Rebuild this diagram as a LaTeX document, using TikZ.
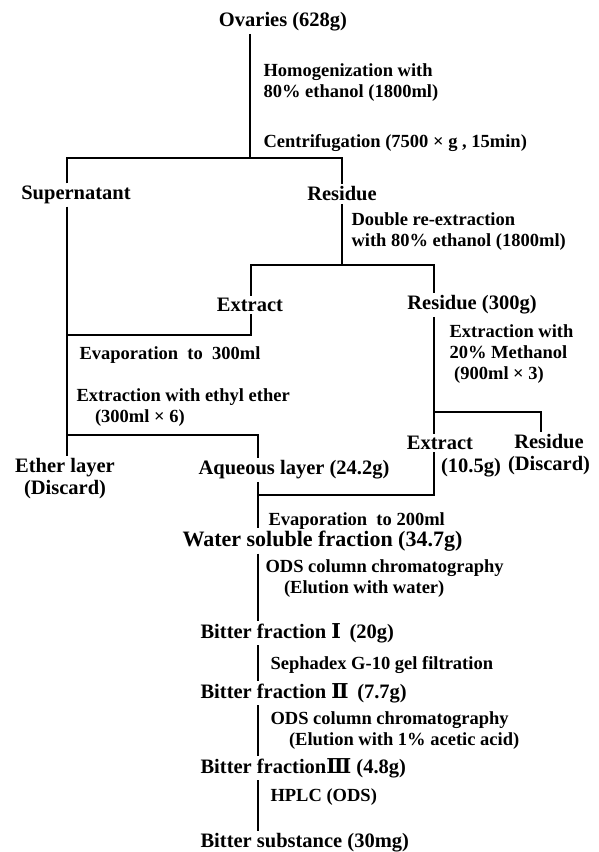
\documentclass[tikz,border=0pt]{standalone}
\usepackage{fontspec}
\setmainfont{Liberation Serif}
\newfontfamily\numfont{DejaVu Serif}
\usetikzlibrary{positioning}

\begin{document}
\begin{tikzpicture}[x=1pt, y=-1pt, line width=1.1pt,
    main/.style={font=\fontsize{20.5}{22}\selectfont\bfseries, inner sep=2pt, align=center},
    note/.style={font=\fontsize{18.5}{21}\selectfont\bfseries, inner sep=0pt, anchor=west, align=left}]
        \useasboundingbox (0,0) rectangle (599,852);

        % Junctions of the tree
        \coordinate (t1) at (250,158);
        \coordinate (t1l) at (67,158);
        \coordinate (t1r) at (342,158);
        \coordinate (t2) at (342,265);
        \coordinate (t2l) at (251,265);
        \coordinate (t2r) at (434,265);
        \coordinate (t3) at (251,335);
        \coordinate (t3l) at (67,335);
        \coordinate (t4) at (67,435);
        \coordinate (t4r) at (258,435);
        \coordinate (t5) at (434,412);
        \coordinate (t5r) at (541,412);
        \coordinate (t6) at (258,495);
        \coordinate (t6r) at (434,495);

        % Fractions
        \node[main] (ov) at (283,22) {Ovaries (628g)};
        \node[main] (sup) at (76,195) {Supernatant};
        \node[main] (res1) at (342,194) {Residue};
        \node[main] (ext1) at (250,305) {Extract};
        \node[main] (res2) at (472,305) {Residue (300g)};
        \node[main] (eth) at (65,479) {Ether layer\\(Discard)};
        \node[main] (aq) at (294,470) {Aqueous layer (24.2g)};
        \node[main] (ext2) at (440,443) {Extract};
        \node[main] (ext2w) at (471,468) {(10.5g)};
        \node[main] (res3) at (549,455) {Residue\\(Discard)};
        \node[main, anchor=west, font=\fontsize{22}{24}\selectfont\bfseries] (ws) at (180,541) {Water soluble fraction (34.7g)};
        \node[main, anchor=west] (bf1) at (198,633) {Bitter fraction {\numfont Ⅰ}\, (20g)};
        \node[main, anchor=west] (bf2) at (198,693) {Bitter fraction {\numfont Ⅱ}\, (7.7g)};
        \node[main, anchor=west] (bf3) at (198,768) {Bitter fraction{\numfont Ⅲ} (4.8g)};
        \node[main, anchor=west] (bs) at (198,843) {Bitter substance (30mg)};

        % Treatments
        \node[note] (n1) at (263,83) {Homogenization with\\80\% ethanol (1800ml)};
        \node[note] (n2) at (263,143) {Centrifugation (7500 × g , 15min)};
        \node[note] (n3) at (351,232) {Double re-extraction\\with 80\% ethanol (1800ml)};
        \node[note] (n4) at (449,354) {Extraction with\\20\% Methanol\\\ (900ml × 3)};
        \node[note] (n5) at (79,355) {Evaporation\ \ to\ \ 300ml};
        \node[note] (n6) at (76,408) {Extraction with ethyl ether\\\quad (300ml × 6)};
        \node[note] (n7) at (268,521) {Evaporation\ \ to 200ml};
        \node[note] (n8) at (265,579) {ODS column chromatography\\\quad(Elution with water)};
        \node[note] (n9) at (270,665) {Sephadex G-10 gel filtration};
        \node[note] (n10) at (270,731) {ODS column chromatography\\\quad(Elution with 1\% acetic acid)};
        \node[note] (n11) at (270,797) {HPLC (ODS)};

        % Connectors
        \draw (ov.south -| t1) -- (t1);
        \draw (sup.north -| t1l) -- (t1l) -- (t1r) -- (res1.north -| t1r);
        \draw (res1.south -| t2) -- (t2);
        \draw (ext1.north -| t2l) -- (t2l) -- (t2r) -- (res2.north -| t2r);
        \draw (ext1.south -| t3) -- (t3) -- (t3l);
        \draw (sup.south -| t4) -- (eth.north -| t4);
        \draw (t4) -- (t4r) -- (aq.north -| t4r);
        \draw (aq.south -| t6) -- (ws.north -| t6);
        \draw (t6) -- (t6r) -- (ext2.south -| t6r);
        \draw (res2.south -| t5) -- (ext2.north -| t5);
        \draw (t5) -- (t5r) -- (res3.north -| t5r);
        \draw (ws.south -| t6) -- (bf1.north -| t6);
        \draw (bf1.south -| t6) -- (bf2.north -| t6);
        \draw (bf2.south -| t6) -- (bf3.north -| t6);
        \draw (bf3.south -| t6) -- (bs.north -| t6);

    \end{tikzpicture}
\end{document}
